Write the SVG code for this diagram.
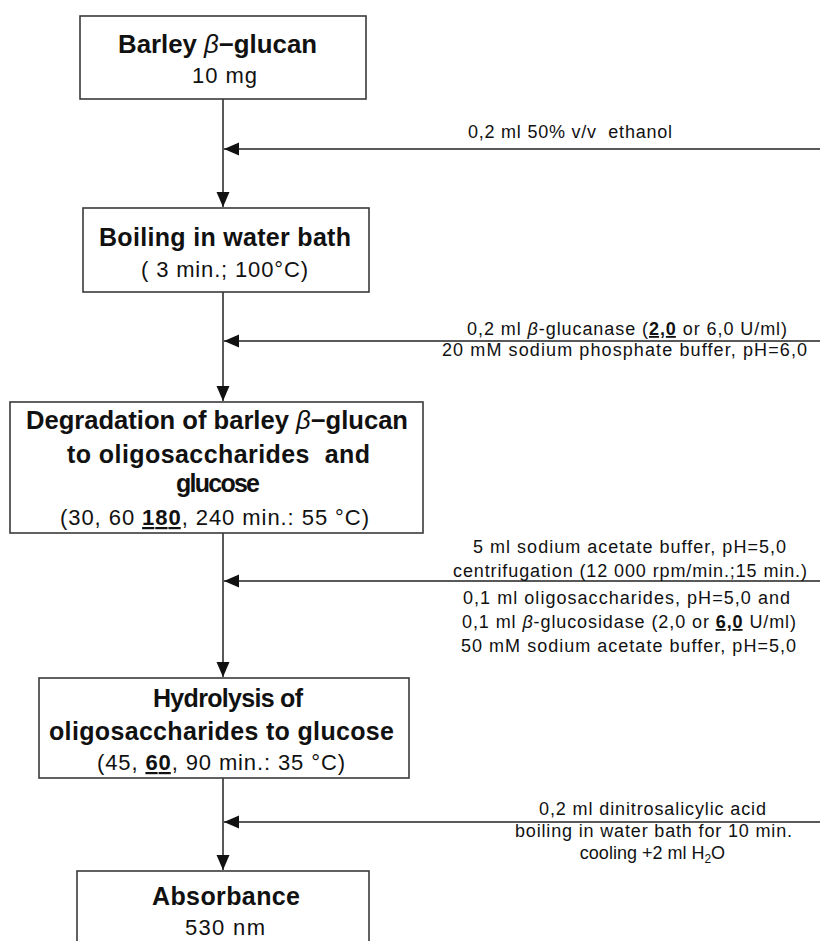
<svg xmlns="http://www.w3.org/2000/svg" width="820" height="941" viewBox="0 0 820 941">
<defs>
<style>
.box{fill:#fff;stroke:#3a3a3a;stroke-width:1.6}
.con{stroke:#222;stroke-width:1.5;fill:none}
text{font-family:"Liberation Sans",Arial,sans-serif;fill:#111;text-anchor:middle}
.t{font-size:25px;font-weight:bold}
.s{font-size:22px}
.r{font-size:18px}
.b{font-style:italic;font-weight:normal}
.u{font-weight:bold;text-decoration:underline}
</style>
<marker id="ah" markerUnits="userSpaceOnUse" markerWidth="16" markerHeight="14" refX="15" refY="6.5" orient="auto">
<path d="M0,0 L15,6.5 L0,13 z" fill="#111"/>
</marker>
</defs>
<rect width="820" height="941" fill="#fff"/>
<g id="connectors">
<line class="con" x1="223" y1="99" x2="223" y2="207" marker-end="url(#ah)"/>
<line class="con" x1="820" y1="149" x2="224" y2="149" marker-end="url(#ah)"/>
<line class="con" x1="223" y1="292" x2="223" y2="401" marker-end="url(#ah)"/>
<line class="con" x1="820" y1="341" x2="224" y2="341" marker-end="url(#ah)"/>
<line class="con" x1="223" y1="533" x2="223" y2="677" marker-end="url(#ah)"/>
<line class="con" x1="820" y1="581" x2="224" y2="581" marker-end="url(#ah)"/>
<line class="con" x1="223" y1="778" x2="223" y2="870" marker-end="url(#ah)"/>
<line class="con" x1="820" y1="822" x2="224" y2="822" marker-end="url(#ah)"/>
</g>
<g id="n1">
<rect class="box" x="80" y="16" width="286" height="83"/>
<text class="t" x="217.5" y="53" textLength="199" lengthAdjust="spacingAndGlyphs">Barley <tspan class="b">β</tspan>−glucan</text>
<text class="s" x="224.5" y="83" textLength="65">10 mg</text>
</g>
<g id="n2">
<rect class="box" x="83" y="208" width="286" height="84"/>
<text class="t" x="225" y="246" textLength="252">Boiling in water bath</text>
<text class="s" x="224.5" y="277" textLength="167">( 3 min.; 100°C)</text>
</g>
<g id="n3">
<rect class="box" x="10" y="402" width="413" height="131"/>
<text class="t" x="217" y="429" textLength="382" lengthAdjust="spacingAndGlyphs">Degradation of barley <tspan class="b">β</tspan>−glucan</text>
<text class="t" x="218.5" y="463" textLength="303" xml:space="preserve">to oligosaccharides  and</text>
<text class="t" x="218" y="492" textLength="84">glucose</text>
<text class="s" x="214.5" y="525" textLength="309">(30, 60 <tspan class="u">180</tspan>, 240 min.: 55 °C)</text>
</g>
<g id="n4">
<rect class="box" x="39" y="678" width="370" height="100"/>
<text class="t" x="228" y="707" textLength="150">Hydrolysis of</text>
<text class="t" x="221.5" y="740" textLength="345">oligosaccharides to glucose</text>
<text class="s" x="221" y="770" textLength="248">(45, <tspan class="u">60</tspan>, 90 min.: 35 °C)</text>
</g>
<g id="n5">
<rect class="box" x="77" y="871" width="292" height="90"/>
<text class="t" x="226" y="905" textLength="148">Absorbance</text>
<text class="s" x="225" y="935" textLength="80">530 nm</text>
</g>
<g id="labels">
<text class="r" x="570" y="138" textLength="204" xml:space="preserve">0,2 ml 50% v/v  ethanol</text>
<text class="r" x="627" y="335" textLength="320">0,2 ml <tspan class="b">β</tspan>-glucanase (<tspan class="u">2,0</tspan> or 6,0 U/ml)</text>
<text class="r" x="624.5" y="356" textLength="365">20 mM sodium phosphate buffer, pH=6,0</text>
<text class="r" x="629.5" y="553" textLength="313">5 ml sodium acetate buffer, pH=5,0</text>
<text class="r" x="630" y="577" textLength="354">centrifugation (12 000 rpm/min.;15 min.)</text>
<text class="r" x="626.5" y="604" textLength="327">0,1 ml oligosaccharides, pH=5,0 and</text>
<text class="r" x="629" y="628" textLength="334">0,1 ml <tspan class="b">β</tspan>-glucosidase (2,0 or <tspan class="u">6,0</tspan> U/ml)</text>
<text class="r" x="628.5" y="652" textLength="335">50 mM sodium acetate buffer, pH=5,0</text>
<text class="r" x="652.5" y="815" textLength="227">0,2 ml dinitrosalicylic acid</text>
<text class="r" x="653.5" y="837" textLength="277">boiling in water bath for 10 min.</text>
<text class="r" x="652.5" y="859">cooling +2 ml H<tspan font-size="12" dy="4">2</tspan><tspan dy="-4">O</tspan></text>
</g>
</svg>
